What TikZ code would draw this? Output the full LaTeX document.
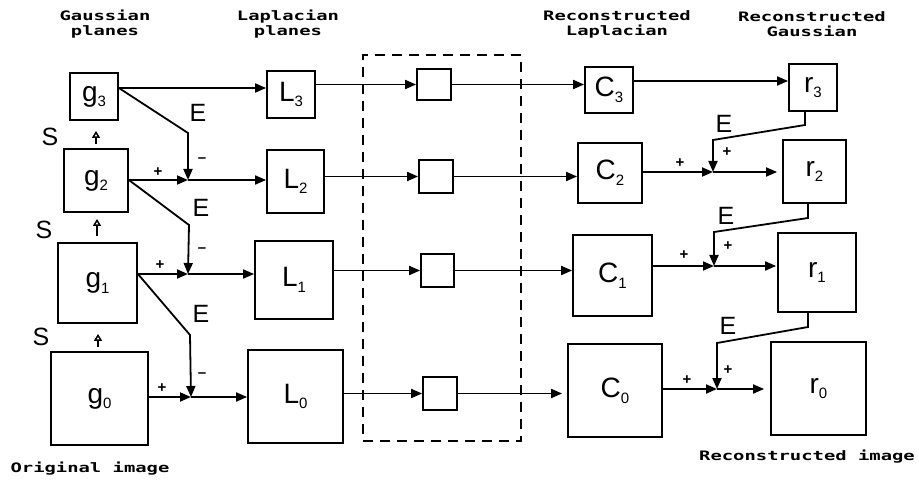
\documentclass[tikz,border=0pt]{standalone}
\usepackage{fontspec}
\setmainfont{Liberation Sans}
\newfontfamily\hdrfont{DejaVu Sans Mono}
\usetikzlibrary{arrows.meta}
\tikzset{
  blk/.style={draw, line width=1.8pt, inner sep=0pt, font=\fontsize{28}{28}\selectfont},
  conn/.style={line width=1.8pt, -{Triangle[length=11pt,width=9pt]}},
  lab/.style={font=\fontsize{25}{25}\selectfont, inner sep=0pt},
  sgn/.style={font=\bfseries\fontsize{15}{15}\selectfont, inner sep=0pt},
  hdr/.style={align=center, inner sep=0pt, font=\hdrfont\bfseries\fontsize{13}{15}\selectfont},
  sarr/.style={line width=1.5pt, -{Triangle[open,length=7pt,width=8pt]}},
  grpbox/.style={draw, line width=1.8pt, dash pattern=on 10pt off 7pt, inner sep=0pt},
}
\newcommand\lsub[2]{#1\raisebox{-0.2em}{\fontsize{15}{15}\selectfont #2}}
\newcommand\hd[1]{\scalebox{1.45}[1]{#1}}
\begin{document}
\begin{tikzpicture}[x=1pt,y=-1pt]
\useasboundingbox (0,0) rectangle (919,481);

% headers
\node[hdr] (h1) at (105,24) {\hd{Gaussian}\\\hd{planes}};
\node[hdr] (h2) at (288,24) {\hd{Laplacian}\\\hd{planes}};
\node[hdr] (h3) at (617,24) {\hd{Reconstructed}\\\hd{Laplacian}};
\node[hdr] (h4) at (812,24) {\hd{Reconstructed}\\\hd{Gaussian}};
\node[hdr] (h5) at (90,469) {\hd{Original image}};
\node[hdr] (h6) at (807,457) {\hd{Reconstructed image}};

% dashed group
\node[grpbox, minimum width=158pt, minimum height=386pt] (grp) at (442,248) {};

% Gaussian boxes
\node[blk, minimum width=48pt, minimum height=47pt] (g3) at (94,96.5) {\lsub{g}{3}};
\node[blk, minimum width=64pt, minimum height=63pt] (g2) at (96,180.5) {\lsub{g}{2}};
\node[blk, minimum width=79pt, minimum height=80pt] (g1) at (97.5,283) {\lsub{g}{1}};
\node[blk, minimum width=97pt, minimum height=93pt] (g0) at (99.5,398.5) {\lsub{g}{0}};

% Laplacian boxes
\node[blk, minimum width=48pt, minimum height=47pt] (L3) at (291,94.5) {\lsub{L}{3}};
\node[blk, minimum width=57pt, minimum height=63pt] (L2) at (295.5,181.5) {\lsub{L}{2}};
\node[blk, minimum width=78pt, minimum height=78pt] (L1) at (294,280) {\lsub{L}{1}};
\node[blk, minimum width=95pt, minimum height=93pt] (L0) at (295.5,396.5) {\lsub{L}{0}};

% middle boxes
\node[blk, minimum width=34pt, minimum height=31pt] (M3) at (434,84.5) {};
\node[blk, minimum width=34pt, minimum height=33pt] (M2) at (436,176.5) {};
\node[blk, minimum width=33pt, minimum height=33pt] (M1) at (437.5,270.5) {};
\node[blk, minimum width=34pt, minimum height=33pt] (M0) at (440,393.5) {};

% reconstructed Laplacian
\node[blk, minimum width=48pt, minimum height=46pt] (C3) at (609,90) {\lsub{C}{3}};
\node[blk, minimum width=64pt, minimum height=60pt] (C2) at (610,173) {\lsub{C}{2}};
\node[blk, minimum width=79pt, minimum height=81pt] (C1) at (612.5,275.5) {\lsub{C}{1}};
\node[blk, minimum width=94pt, minimum height=93pt] (C0) at (615,390.5) {\lsub{C}{0}};

% reconstructed Gaussian
\node[blk, minimum width=48pt, minimum height=47pt] (r3) at (813,87.5) {\lsub{r}{3}};
\node[blk, minimum width=63pt, minimum height=63pt] (r2) at (814.5,171.5) {\lsub{r}{2}};
\node[blk, minimum width=78pt, minimum height=79pt] (r1) at (817,272.5) {\lsub{r}{1}};
\node[blk, minimum width=95pt, minimum height=93pt] (r0) at (818.5,388.5) {\lsub{r}{0}};

% coordinates
\coordinate (ya3) at (0,88);
\coordinate (yb3) at (0,81);
\coordinate (j2) at (188,180);
\coordinate (j1) at (188,274);
\coordinate (j0) at (191,397);
\coordinate (b3) at (188,133);
\coordinate (b2) at (189,225);
\coordinate (b1) at (190,335);
\coordinate (k2) at (713,172);
\coordinate (k1) at (714,266);
\coordinate (k0) at (717,389);
\coordinate (e3a) at (805,125);
\coordinate (e3b) at (713,140);
\coordinate (e2a) at (808,218);
\coordinate (e2b) at (714,232);
\coordinate (e1a) at (808,327);
\coordinate (e1b) at (717,343);

% row 3
\draw[conn] (g3.east |- ya3) -- (L3.west |- ya3);
\draw[conn] (L3.east |- M3.west) -- (M3.west);
\draw[conn] (M3.east) -- (C3.west |- M3.east);
\draw[conn] (C3.east |- yb3) -- (r3.west |- yb3);

% row 2
\draw[conn] (g2.east |- j2) -- (j2);
\draw[conn] (j2) -- (L2.west |- j2);
\draw[conn] (L2.east |- M2.west) -- (M2.west);
\draw[conn] (M2.east) -- (C2.west |- M2.east);
\draw[conn] (C2.east |- k2) -- (k2);
\draw[conn, shorten >=5pt] (k2) -- (r2.west |- k2);

% row 1
\draw[conn] (g1.east |- j1) -- (j1);
\draw[conn] (j1) -- (L1.west |- j1);
\draw[conn] (L1.east |- M1.west) -- (M1.west);
\draw[conn] (M1.east) -- (C1.west |- M1.east);
\draw[conn] (C1.east |- k1) -- (k1);
\draw[conn, shorten >=1pt] (k1) -- (r1.west |- k1);

% row 0
\draw[conn] (g0.east |- j0) -- (j0);
\draw[conn] (j0) -- (L0.west |- j0);
\draw[conn] (L0.east |- M0.west) -- (M0.west);
\draw[conn, shorten >=5pt] (M0.east) -- (C0.west |- M0.east);
\draw[conn] (C0.east |- k0) -- (k0);
\draw[conn, shorten >=6pt] (k0) -- (r0.west |- k0);

% expand paths (left)
\draw[conn] (g3.east |- ya3) -- (b3) -- (j2);
\draw[conn] (g2.east |- j2) -- (b2) -- (j1);
\draw[conn] (g1.east |- j1) -- (b1) -- (j0);

% expand paths (right)
\draw[conn] (r3.south -| e3a) -- (e3a) -- (e3b) -- (k2);
\draw[conn] (r2.south -| e2a) -- (e2a) -- (e2b) -- (k1);
\draw[conn] (r1.south -| e1a) -- (e1a) -- (e1b) -- (k0);

% S arrows
\coordinate (sx3) at (96,0);
\coordinate (sx2) at (97,0);
\coordinate (sx1) at (98,0);
\draw[sarr, shorten <=4pt, shorten >=10pt] (g2.north -| sx3) -- (g3.south -| sx3);
\draw[sarr, shorten <=6pt, shorten >=6pt] (g1.north -| sx2) -- (g2.south -| sx2);
\draw[sarr, shorten <=4pt, shorten >=10pt] (g0.north -| sx1) -- (g1.south -| sx1);

% labels
\node[lab] (S3) at (50,137) {S};
\node[lab] (S2) at (44,230) {S};
\node[lab] (S1) at (41,337) {S};
\node[lab] (El3) at (198,113) {E};
\node[lab] (El2) at (201,208) {E};
\node[lab] (El1) at (201,314) {E};
\node[lab] (Er3) at (724,124) {E};
\node[lab] (Er2) at (726,216) {E};
\node[lab] (Er1) at (728,326) {E};

% signs
\node[sgn] (p2) at (158,172) {+};
\node[sgn] (m2) at (202,160) {–};
\node[sgn] (p1) at (160,265) {+};
\node[sgn] (m1) at (202,250) {–};
\node[sgn] (p0) at (162,388) {+};
\node[sgn] (m0) at (202,375) {–};
\node[sgn] (q2a) at (680,163) {+};
\node[sgn] (q2b) at (727,152) {+};
\node[sgn] (q1a) at (684,255) {+};
\node[sgn] (q1b) at (728,246) {+};
\node[sgn] (q0a) at (687,380) {+};
\node[sgn] (q0b) at (728,370) {+};
\end{tikzpicture}
\end{document}
